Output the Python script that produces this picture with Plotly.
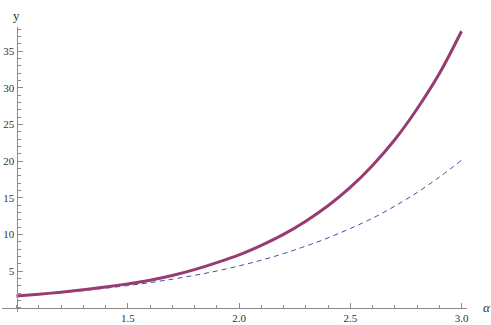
import plotly.graph_objects as go

alpha = [1.0, 1.1, 1.2, 1.3, 1.4, 1.5, 1.6, 1.7, 1.8, 1.9, 2.0,
         2.1, 2.2, 2.3, 2.4, 2.5, 2.6, 2.7, 2.8, 2.9, 3.0]
y_solid = [1.60, 1.84, 2.12, 2.45, 2.82, 3.25, 3.75, 4.4, 5.2, 6.15, 7.2,
           8.5, 10.0, 11.8, 13.9, 16.4, 19.4, 22.9, 27.1, 31.9, 37.7]
y_dashed = [1.60, 1.82, 2.06, 2.34, 2.66, 3.02, 3.42, 3.89, 4.41, 5.01, 5.70,
            6.48, 7.38, 8.40, 9.52, 10.8, 12.2, 13.85, 15.7, 17.8, 20.1]

x_ticks = [1.5, 2.0, 2.5, 3.0]
x_tick_labels = ["1.5", "2.0", "2.5", "3.0"]
x_minor = [round(1.0 + 0.1 * i, 2) for i in range(21)]
y_ticks = [5, 10, 15, 20, 25, 30, 35]
y_minor = list(range(0, 39))

W, H = 491, 325
ml, mr, mt, mb = 2, 24, 27, 13
x_range = [0.9348, 3.0247]
y_range = [-0.586, 38.28]

axis_col = "#8c8c8c"
serif = "Liberation Serif, DejaVu Serif, serif"
lab_font = dict(family=serif, size=11, color="#333333")

fig = go.Figure()
fig.add_trace(go.Scatter(x=alpha, y=y_dashed, mode="lines", line_shape="spline",
                         line=dict(color="#4b4ba8", width=1, dash="5px,4px"),
                         showlegend=False, hoverinfo="skip"))
fig.add_trace(go.Scatter(x=alpha, y=y_solid, mode="lines", line_shape="spline",
                         line=dict(color="#963c70", width=3),
                         showlegend=False, hoverinfo="skip"))

x_pos = (0 - y_range[0]) / (y_range[1] - y_range[0])
y_pos = (1.0 - x_range[0]) / (x_range[1] - x_range[0])

fig.update_layout(
    width=W, height=H,
    margin=dict(l=ml, r=mr, t=mt, b=mb, autoexpand=False),
    paper_bgcolor="white", plot_bgcolor="white",
    xaxis=dict(range=x_range, showgrid=False, zeroline=False,
               showline=True, linecolor=axis_col, linewidth=1,
               anchor="free", position=x_pos,
               tickmode="array", tickvals=x_ticks, ticktext=x_tick_labels,
               ticks="inside", ticklen=5, tickcolor=axis_col, tickwidth=1,
               tickfont=lab_font, automargin=False,
               minor=dict(tickmode="array", tickvals=x_minor, ticks="inside",
                          ticklen=3, tickcolor=axis_col, showgrid=False)),
    yaxis=dict(range=y_range, showgrid=False, zeroline=False,
               showline=True, linecolor=axis_col, linewidth=1,
               anchor="free", position=y_pos,
               tickmode="array", tickvals=y_ticks,
               ticks="inside", ticklen=5, tickcolor=axis_col, tickwidth=1,
               tickfont=lab_font, automargin=False,
               minor=dict(tickmode="array", tickvals=y_minor, ticks="inside",
                          ticklen=3, tickcolor=axis_col, showgrid=False)),
    annotations=[
        dict(text="y", xref="paper", yref="paper", x=y_pos, y=1.0,
             xanchor="center", yanchor="bottom", yshift=2, showarrow=False,
             font=dict(family=serif, size=13, color="#333333")),
        dict(text="<i>α</i>", xref="paper", yref="paper", x=1.0, y=x_pos,
             xanchor="left", yanchor="middle", xshift=14, showarrow=False,
             font=dict(family=serif, size=13, color="#333333")),
    ],
)

fig.write_html("out.html", config={"displayModeBar": False},
               post_script="document.body.style.margin='0';document.body.style.overflow='hidden';")
